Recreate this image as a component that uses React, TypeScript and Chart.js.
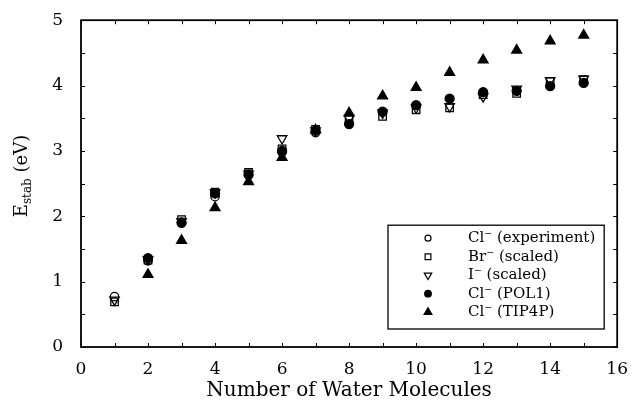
import React, { useEffect, useRef } from 'react';
import { Chart, registerables } from 'chart.js';
import { drawPoint } from 'chart.js/helpers';

Chart.register(...registerables);

// ---- data ----
const waterCounts = [1, 2, 3, 4, 5, 6, 7, 8, 9, 10, 11, 12, 13, 14, 15];
const clExperiment = [0.77, 1.32, 1.91, 2.30, 2.63, 2.98, 3.28, null, null, null, null, null, null, null, null];
const brScaled = [0.69, 1.33, 1.95, 2.37, 2.67, 3.03, 3.33, 3.48, 3.53, 3.63, 3.66, 3.86, 3.88, 4.06, 4.09];
const iScaled = [0.72, 1.34, 1.92, 2.36, 2.65, 3.19, 3.31, 3.50, 3.58, 3.66, 3.68, 3.83, 3.95, 4.08, 4.10];
const clPol1 = [null, 1.36, 1.90, 2.35, 2.64, 3.00, 3.31, 3.41, 3.60, 3.70, 3.80, 3.90, 3.92, 3.99, 4.04];
const clTip4p = [null, 1.11, 1.63, 2.13, 2.53, 2.90, 3.32, 3.58, 3.84, 3.97, 4.20, 4.39, 4.54, 4.68, 4.77];

const seriesLabels = ['Cl\u207B (experiment)', 'Br\u207B (scaled)', 'I\u207B (scaled)', 'Cl\u207B (POL1)', 'Cl\u207B (TIP4P)'];
const xAxisTitle = 'Number of Water Molecules';
const yAxisMain = 'E';
const yAxisSub = 'stab';
const yAxisRest = ' (eV)';

const SERIF = "'DejaVu Serif', 'Liberation Serif', serif";

function toPoints(values: (number | null)[]) {
  const pts: { x: number; y: number }[] = [];
  values.forEach((v, i) => {
    if (v !== null) pts.push({ x: waterCounts[i], y: v });
  });
  return pts;
}

const styles = [
  { pointStyle: 'circle', radius: 4.2, rotation: 0, fill: 'rgba(0,0,0,0)' },
  { pointStyle: 'rect', radius: 5.3, rotation: 0, fill: 'rgba(0,0,0,0)' },
  { pointStyle: 'triangle', radius: 5.5, rotation: 180, fill: 'rgba(0,0,0,0)' },
  { pointStyle: 'circle', radius: 4.5, rotation: 0, fill: '#000' },
  { pointStyle: 'triangle', radius: 5.7, rotation: 0, fill: '#000' },
];

const framePlugin = {
  id: 'frameTicks',
  afterDraw(chart: any) {
    const { ctx, chartArea } = chart;
    const { left, right, top, bottom } = chartArea;
    const xs = chart.scales.x;
    const ys = chart.scales.y;
    ctx.save();
    ctx.strokeStyle = '#000';
    ctx.lineWidth = 1;
    const tl = 4;
    ctx.beginPath();
    xs.ticks.forEach((t: any) => {
      const px = Math.round(xs.getPixelForValue(t.value)) + 0.5;
      ctx.moveTo(px, bottom);
      ctx.lineTo(px, bottom - tl);
      ctx.moveTo(px, top);
      ctx.lineTo(px, top + tl);
    });
    ys.ticks.forEach((t: any) => {
      const py = Math.round(ys.getPixelForValue(t.value)) + 0.5;
      ctx.moveTo(left, py);
      ctx.lineTo(left + tl, py);
      ctx.moveTo(right, py);
      ctx.lineTo(right - tl, py);
    });
    ctx.stroke();
    ctx.lineWidth = 1.8;
    ctx.strokeRect(left, top, right - left, bottom - top);

    // y axis title with subscript
    ctx.fillStyle = '#000';
    ctx.translate(20, 176);
    ctx.rotate(-Math.PI / 2);
    const mainFont = `18px ${SERIF}`;
    const subFont = `12px ${SERIF}`;
    ctx.font = mainFont;
    const wE = ctx.measureText(yAxisMain).width;
    const wR = ctx.measureText(yAxisRest).width;
    ctx.font = subFont;
    const wS = ctx.measureText(yAxisSub).width;
    let x0 = -(wE + wS + wR) / 2;
    ctx.textBaseline = 'alphabetic';
    ctx.textAlign = 'left';
    ctx.font = mainFont;
    ctx.fillText(yAxisMain, x0, 6.5);
    x0 += wE;
    ctx.font = subFont;
    ctx.fillText(yAxisSub, x0, 10.5);
    x0 += wS;
    ctx.font = mainFont;
    ctx.fillText(yAxisRest, x0, 6.5);
    ctx.restore();
  },
};

const boxLegendPlugin = {
  id: 'boxLegend',
  afterDraw(chart: any) {
    const { ctx, chartArea } = chart;
    const boxLeft = chartArea.left + 307;
    const boxRight = chartArea.right - 13;
    const boxBottom = chartArea.bottom - 18;
    const boxTop = chartArea.top + 205;
    ctx.save();
    ctx.fillStyle = '#fff';
    ctx.fillRect(boxLeft, boxTop, boxRight - boxLeft, boxBottom - boxTop);
    ctx.strokeStyle = '#000';
    ctx.lineWidth = 1.3;
    ctx.strokeRect(boxLeft, boxTop, boxRight - boxLeft, boxBottom - boxTop);
    const rowH = 18.5;
    const firstY = boxTop + 13;
    chart.data.datasets.forEach((ds: any, i: number) => {
      const y = firstY + i * rowH;
      const st = styles[i];
      ctx.fillStyle = st.fill;
      ctx.strokeStyle = '#000';
      ctx.lineWidth = 1.2;
      drawPoint(ctx, { pointStyle: st.pointStyle, radius: st.radius - 1.2, rotation: st.rotation, borderWidth: 1.2 } as any, boxLeft + 40, y);
      ctx.fillStyle = '#000';
      ctx.font = `15px ${SERIF}`;
      ctx.textBaseline = 'middle';
      ctx.textAlign = 'left';
      ctx.fillText(ds.label, boxLeft + 80, y);
    });
    ctx.restore();
  },
};

export default function App() {
  const canvasRef = useRef<HTMLCanvasElement | null>(null);

  useEffect(() => {
    document.body.style.margin = '0';
    const canvas = canvasRef.current;
    if (!canvas) return;
    const seriesValues = [clExperiment, brScaled, iScaled, clPol1, clTip4p];
    const chart = new Chart(canvas, {
      type: 'scatter',
      data: {
        datasets: seriesValues.map((vals, i) => ({
          label: seriesLabels[i],
          data: toPoints(vals),
          pointStyle: styles[i].pointStyle as any,
          pointRadius: styles[i].radius,
          pointRotation: styles[i].rotation,
          backgroundColor: styles[i].fill,
          borderColor: '#000',
          pointBorderWidth: 1.3,
          showLine: false,
        })),
      },
      options: {
        animation: false,
        responsive: true,
        maintainAspectRatio: false,
        layout: { padding: { top: 17, right: 10, left: 0, bottom: 0 } },
        plugins: {
          legend: { display: false },
          tooltip: { enabled: false },
        },
        scales: {
          x: {
            type: 'linear',
            min: 0,
            max: 16,
            grid: { display: false },
            border: { display: false },
            ticks: {
              stepSize: 1,
              autoSkip: false,
              maxRotation: 0,
              padding: 4,
              color: '#000',
              font: { family: SERIF, size: 17 },
              callback: (v: any) => (Number(v) % 2 === 0 ? String(v) : ''),
            },
            title: {
              display: true,
              text: xAxisTitle,
              color: '#000',
              font: { family: SERIF, size: 20, lineHeight: 1 },
              padding: { top: 0, bottom: 1 },
            },
            afterFit: (s: any) => {
              s.height = 55;
            },
          },
          y: {
            type: 'linear',
            min: 0,
            max: 5,
            grid: { display: false },
            border: { display: false },
            ticks: {
              stepSize: 0.5,
              autoSkip: false,
              padding: 10,
              color: '#000',
              font: { family: SERIF, size: 17 },
              callback: (v: any) => (Number.isInteger(Number(v)) ? String(v) : ''),
            },
            afterFit: (s: any) => {
              s.width = 81;
            },
          },
        },
      },
      plugins: [framePlugin, boxLegendPlugin],
    });
    return () => chart.destroy();
  }, []);

  return (
    <div style={{ width: '632px', height: '402px', position: 'relative' }}>
      <canvas ref={canvasRef} />
    </div>
  );
}
